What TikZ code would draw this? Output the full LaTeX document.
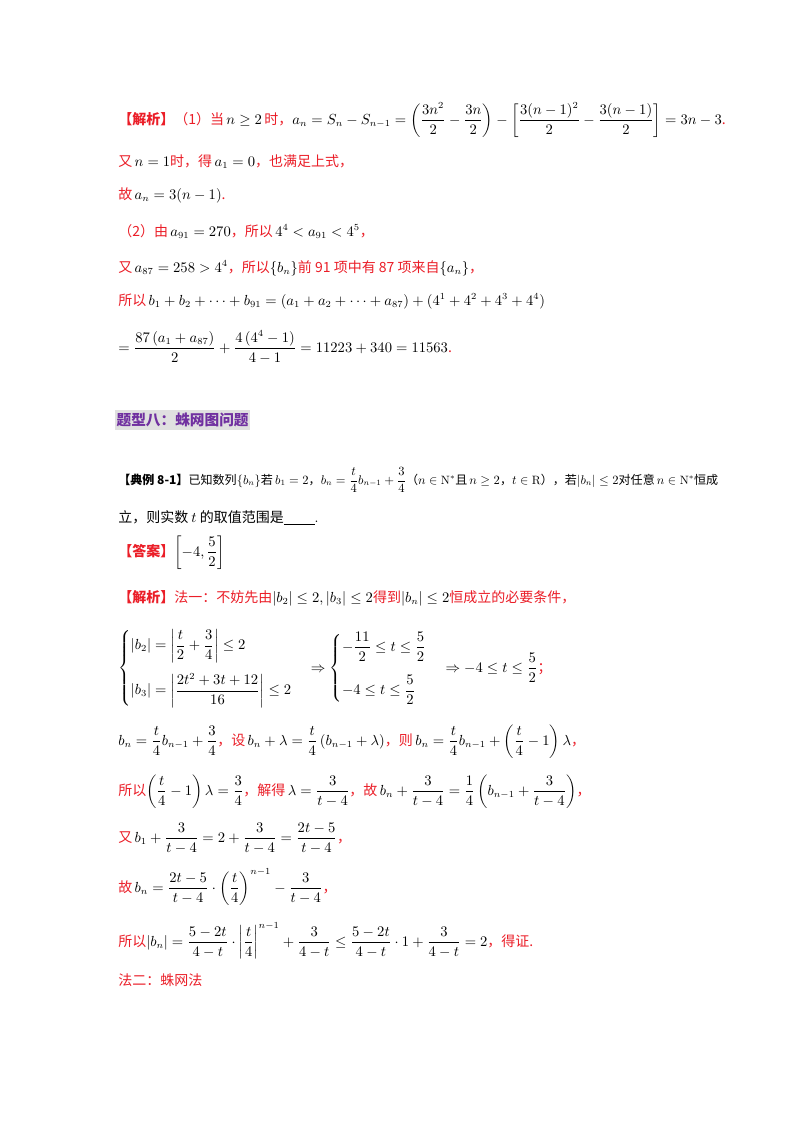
\documentclass[tikz,border=0pt]{standalone}
\usepackage{amsmath,amssymb,graphicx}
\usepackage{fontspec}
\newfontfamily\cjk{Noto Sans CJK SC}
\definecolor{rd}{RGB}{235,30,40}
\definecolor{pu}{RGB}{112,48,160}
\newcommand{\R}[1]{{\color{rd}\cjk #1}}
\newcommand{\K}[1]{{\cjk #1}}
\begin{document}
\begin{tikzpicture}[x=0.75pt,y=-0.75pt,
  ln/.style={anchor=base west,inner sep=0pt,font=\fontsize{10.5}{12}\selectfont}]
\useasboundingbox[fill=white] (0,0) rectangle (800,1132);
\node[ln] (l1) at (118,124) {\R{\textbf{【解析】}（1）当}$\,n\ge2\,$\R{时，}$a_n=S_n-S_{n-1}=\left(\dfrac{3n^2}{2}-\dfrac{3n}{2}\right)-\left[\dfrac{3(n-1)^2}{2}-\dfrac{3(n-1)}{2}\right]=3n-3$\R{.}};
\node[ln] (l2) at (118,166) {\R{又}$\,n=1$\R{时，得}$\,a_1=0$\R{，也满足上式，}};
\node[ln] (l3) at (118,199) {\R{故}$\,a_n=3(n-1)$\R{.}};
\node[ln] (l4) at (118,236) {\R{（2）由}$\,a_{91}=270$\R{，所以}$\,4^4<a_{91}<4^5$\R{，}};
\node[ln] (l5) at (118,272) {\R{又}$\,a_{87}=258>4^4$\R{，所以}$\{b_n\}$\R{前 91 项中有 87 项来自}$\{a_n\}$\R{，}};
\node[ln] (l6) at (118,305) {\R{所以}$\,b_1+b_2+\cdots+b_{91}=\left(a_1+a_2+\cdots+a_{87}\right)+\left(4^1+4^2+4^3+4^4\right)$};
\node[ln] (l7) at (118,352) {$=\dfrac{87\left(a_1+a_{87}\right)}{2}+\dfrac{4\left(4^4-1\right)}{4-1}=11223+340=11563$\R{.}};
\node[anchor=west,fill=black!12,inner xsep=1pt,inner ysep=2pt,font=\fontsize{11}{12}\selectfont\cjk\bfseries,text=pu] (h) at (115,420) {题型八：蛛网图问题};
\node[ln] (e1) at (118,484) {\resizebox{450pt}{!}{\K{\textbf{【典例 8-1】}已知数列}$\{b_n\}$\K{若}$\,b_1=2$\K{，}$b_n=\dfrac{t}{4}b_{n-1}+\dfrac34$\K{（}$n\in\mathrm{N}^*$\K{且}$\,n\ge2$\K{，}$t\in\mathrm{R}$\K{），若}$|b_n|\le2$\K{对任意}$\,n\in\mathrm{N}^*$\K{恒成}}};
\node[ln] (e2) at (118,522) {\K{立，则实数 }$t$\K{ 的取值范围是}\underline{\hspace{2.2em}}.};
\node[ln] (a1) at (118,556) {\R{\textbf{【答案】}}$\left[-4,\dfrac52\right]$};
\node[ln] (s1) at (118,602) {\R{\textbf{【解析】}法一：不妨先由}$|b_2|\le2,|b_3|\le2$\R{得到}$|b_n|\le2$\R{恒成立的必要条件，}};
\node[ln] (s2) at (118,672) {$\begin{cases}\left|b_2\right|=\left|\dfrac t2+\dfrac34\right|\le2\\[3ex]\left|b_3\right|=\left|\dfrac{2t^2+3t+12}{16}\right|\le2\end{cases}\Rightarrow\begin{cases}-\dfrac{11}{2}\le t\le\dfrac52\\[3ex]-4\le t\le\dfrac52\end{cases}\Rightarrow-4\le t\le\dfrac52$\R{；}};
\node[ln] (s3) at (118,745) {$b_n=\dfrac t4b_{n-1}+\dfrac34$\R{，设}$\,b_n+\lambda=\dfrac t4\left(b_{n-1}+\lambda\right)$\R{，则}$\,b_n=\dfrac t4b_{n-1}+\left(\dfrac t4-1\right)\lambda$\R{，}};
\node[ln] (s4) at (118,795) {\R{所以}$\left(\dfrac t4-1\right)\lambda=\dfrac34$\R{，解得}$\,\lambda=\dfrac{3}{t-4}$\R{，故}$\,b_n+\dfrac{3}{t-4}=\dfrac14\left(b_{n-1}+\dfrac{3}{t-4}\right)$\R{，}};
\node[ln] (s5) at (118,842) {\R{又}$\,b_1+\dfrac{3}{t-4}=2+\dfrac{3}{t-4}=\dfrac{2t-5}{t-4}$\R{，}};
\node[ln] (s6) at (118,892) {\R{故}$\,b_n=\dfrac{2t-5}{t-4}\cdot\left(\dfrac t4\right)^{n-1}-\dfrac{3}{t-4}$\R{，}};
\node[ln] (s7) at (118,946) {\R{所以}$|b_n|=\dfrac{5-2t}{4-t}\cdot\left|\dfrac t4\right|^{n-1}+\dfrac{3}{4-t}\le\dfrac{5-2t}{4-t}\cdot1+\dfrac{3}{4-t}=2$\R{，得证.}};
\node[ln] (s8) at (118,985) {\R{法二：蛛网法}};
\end{tikzpicture}
\end{document}
